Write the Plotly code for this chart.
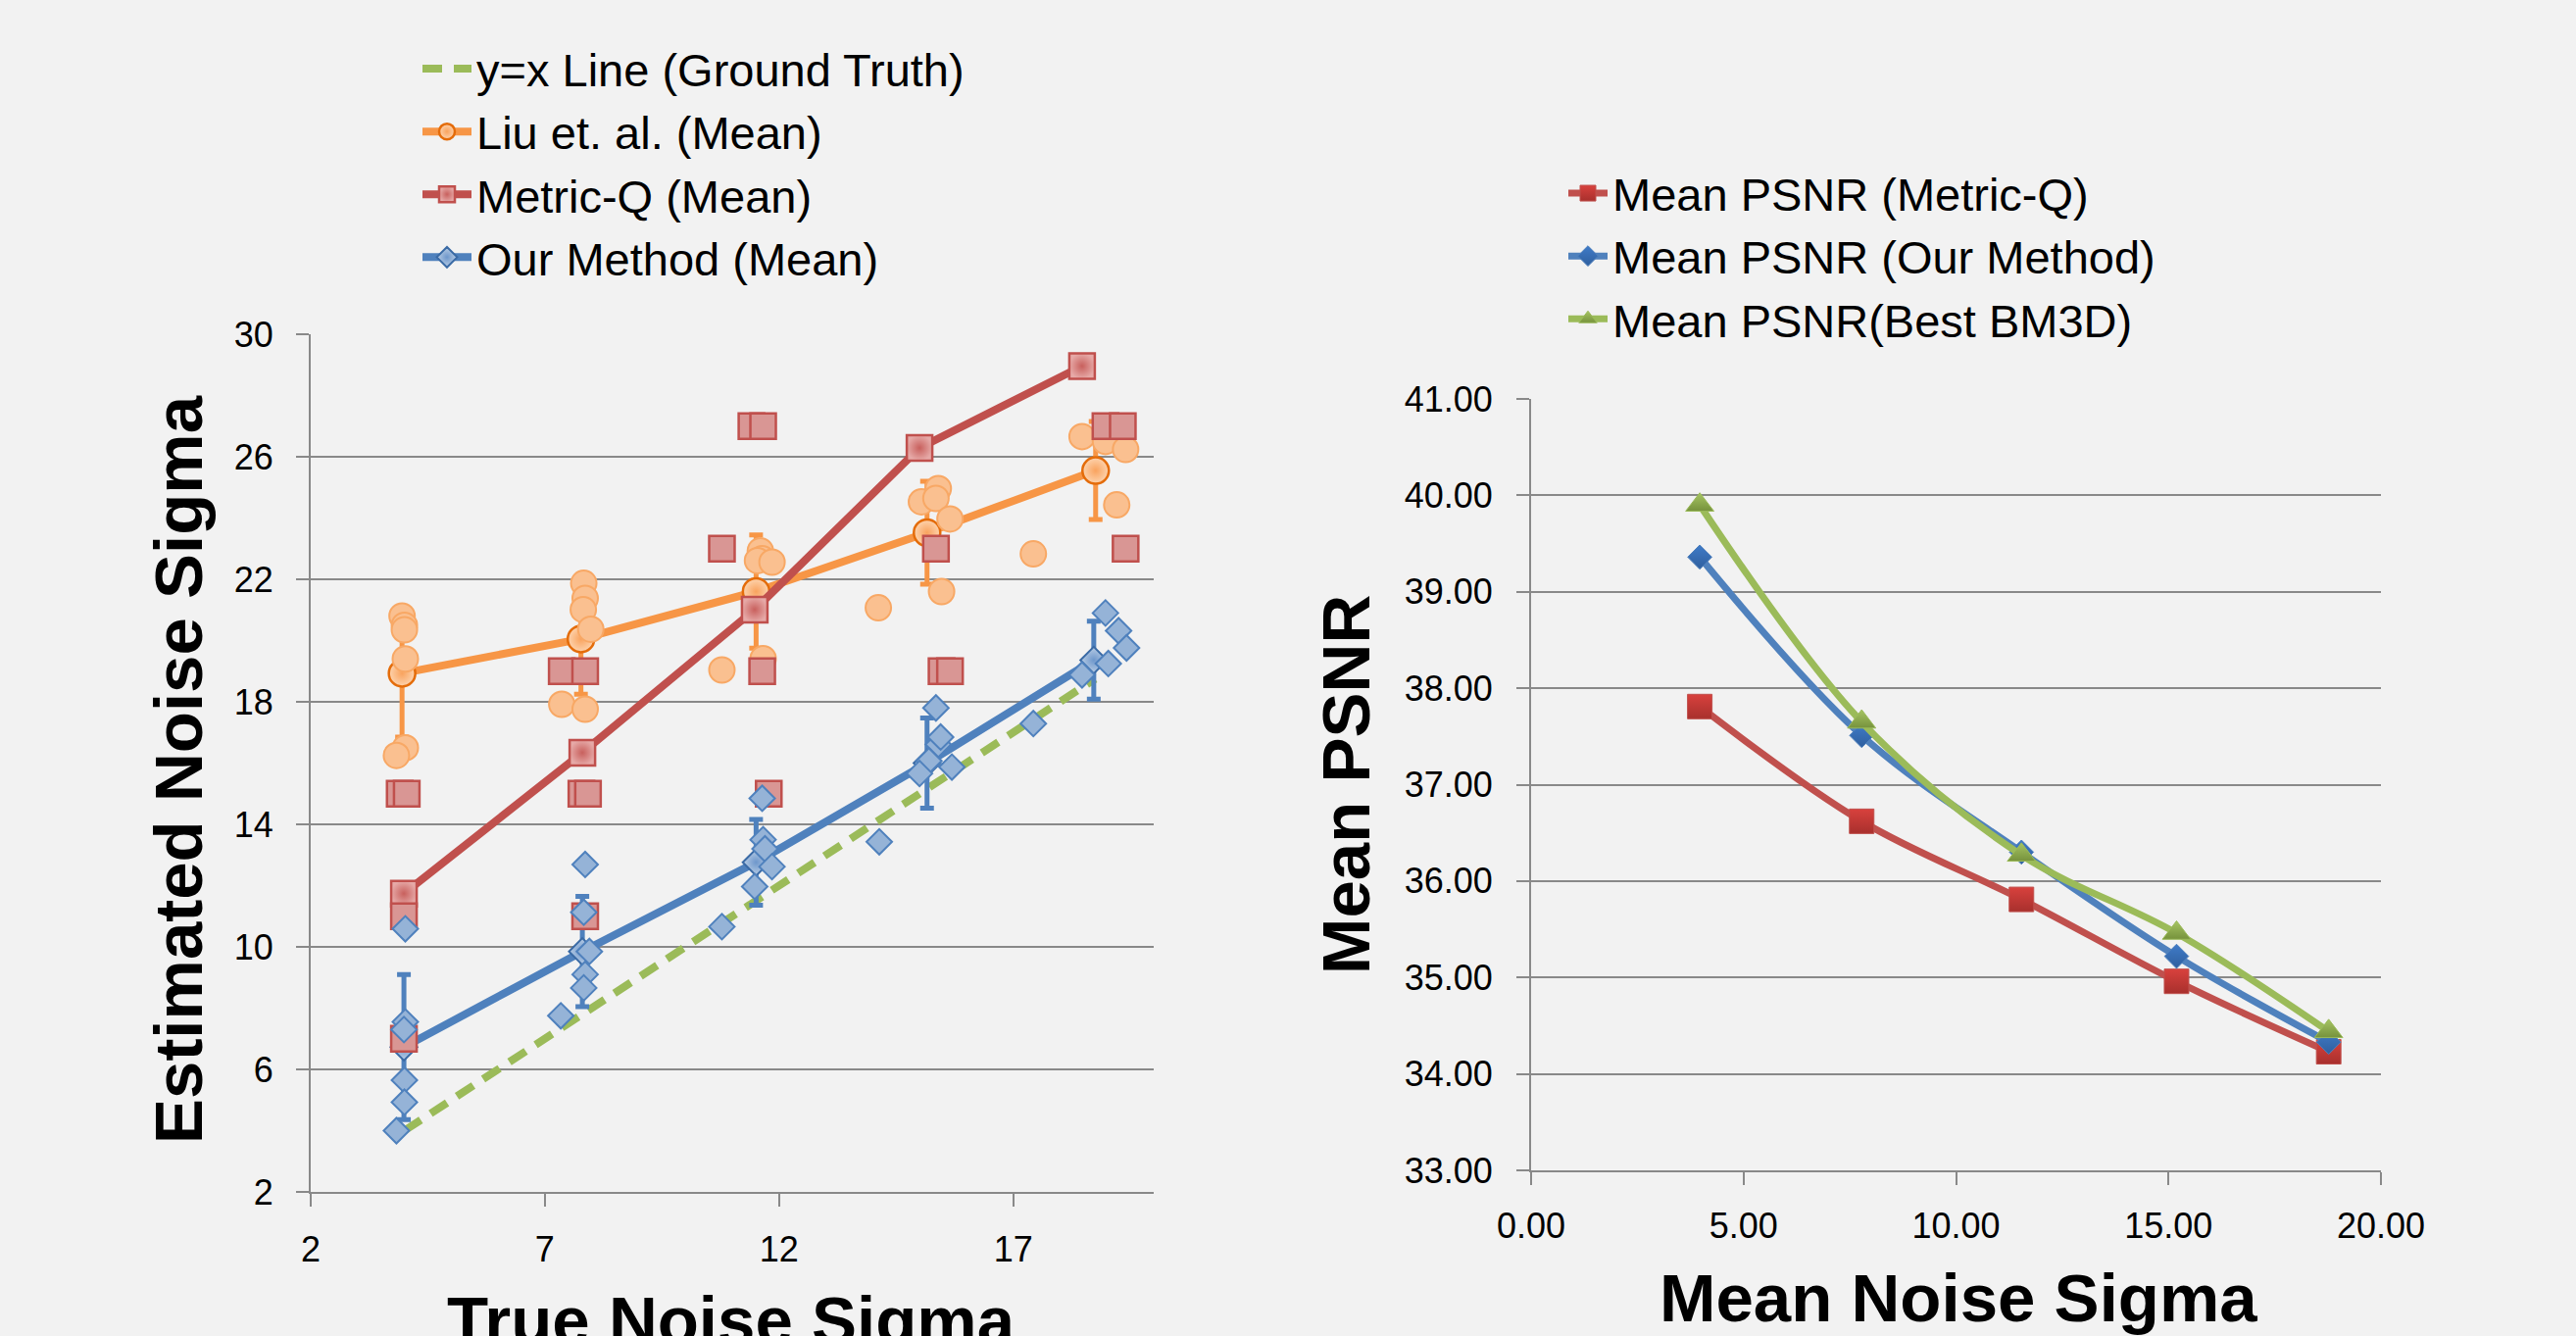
import plotly.graph_objects as go

W, H = 2628, 1363

# ---------------- Left chart data ----------------
gt_x = [4.0, 7.75, 11.5, 15.15, 18.75]
gt_y = [4.0, 7.75, 11.5, 15.15, 18.75]

liu_mean_x = [3.95, 7.77, 11.51, 15.16, 18.76]
liu_mean_y = [18.93, 20.05, 21.6, 23.52, 25.55]
liu_err = [2.08, 1.8, 1.85, 1.68, 1.6]

mq_mean_x = [3.99, 7.8, 11.48, 15.0, 18.47]
mq_mean_y = [11.74, 16.34, 21.01, 26.29, 28.96]

our_mean_x = [3.99, 7.8, 11.51, 15.16, 18.72]
our_mean_y = [6.73, 9.85, 12.76, 16.0, 19.36]
our_err = [2.37, 1.8, 1.4, 1.47, 1.27]

liu_pts_x = [3.95, 4.0, 4.0, 4.02, 4.02, 3.83,
             7.83, 7.86, 7.82, 7.98, 7.36, 7.86,
             11.6, 11.64, 11.54, 11.85, 10.78, 11.66,
             15.04, 15.4, 15.35, 15.65, 15.47, 17.43, 14.12,
             18.47, 18.97, 19.4, 19.21]
liu_pts_y = [20.8, 20.5, 20.35, 19.4, 16.5, 16.25,
             21.87, 21.38, 21.01, 20.37, 17.92, 17.76,
             22.93, 22.67, 22.61, 22.56, 19.04, 19.41,
             24.53, 24.96, 24.64, 23.97, 21.6, 22.83, 21.07,
             26.66, 26.5, 26.24, 24.43]

mq_pts_x = [3.9, 4.05, 3.99, 3.99,
            7.36, 7.86, 7.78, 7.92, 7.86,
            11.41, 11.66, 10.78, 11.64, 11.78,
            15.35, 15.47, 15.65,
            18.97, 19.34, 19.4]
mq_pts_y = [15.0, 15.0, 11.0, 7.0,
            19.0, 19.0, 15.0, 15.0, 11.0,
            27.0, 27.0, 23.0, 19.0, 15.0,
            23.0, 19.0, 19.0,
            27.0, 27.0, 23.0]

our_pts_x = [4.02, 4.02, 3.99, 4.0, 4.0, 3.83,
             7.86, 7.83, 7.95, 7.86, 7.83, 7.34,
             11.64, 11.66, 11.7, 11.85, 11.48, 10.78,
             15.35, 15.4, 15.45, 15.2, 15.0, 15.69, 14.14, 17.43,
             18.97, 19.25, 19.42, 19.03, 18.47]
our_pts_y = [10.59, 7.55, 7.3, 5.65, 4.93, 4.0,
             12.69, 11.13, 9.85, 9.1, 8.66, 7.75,
             14.85, 13.5, 13.2, 12.62, 11.97, 10.66,
             17.8, 16.61, 16.85, 16.07, 15.66, 15.87, 13.43, 17.29,
             20.9, 20.32, 19.76, 19.25, 18.88]

left_xticks = [2, 7, 12, 17]

# ---------------- Right chart data ----------------
psnr_x = [3.97, 7.78, 11.54, 15.19, 18.77]
psnr_mq = [37.81, 36.62, 35.81, 34.96, 34.23]
psnr_our = [39.36, 37.51, 36.30, 35.22, 34.33]
psnr_bm3d = [39.90, 37.65, 36.27, 35.46, 34.44]

# ---------------- Styles ----------------
BG = "#F2F2F2"
GRID = "#898989"
FONT = "Liberation Sans"
ORANGE = "#F79646"
RED = "#C0504D"
BLUE = "#4F81BD"
GREEN = "#9BBB59"


def px(xp):
    return xp / W


def py(yp):
    return 1 - yp / H


fig = go.Figure()

# y = x ground truth
fig.add_trace(go.Scatter(
    x=gt_x, y=gt_y, mode="lines", name="y=x Line (Ground Truth)",
    line=dict(color=GREEN, width=8, dash="20px,12px"),
    xaxis="x", yaxis="y", legend="legend", legendgroup="g1"))

# Means with error bars
fig.add_trace(go.Scatter(
    x=liu_mean_x, y=liu_mean_y, mode="lines+markers", name="Liu et. al. (Mean)",
    line=dict(color=ORANGE, width=8),
    marker=dict(symbol="circle", size=27, color="#FDD3AE",
                gradient=dict(type="radial", color="#F9A35E"),
                line=dict(color="#E46C0A", width=2.5)),
    error_y=dict(type="data", array=liu_err, visible=True, color=ORANGE,
                 thickness=5, width=7),
    xaxis="x", yaxis="y", legend="legend", legendgroup="g2"))

fig.add_trace(go.Scatter(
    x=mq_mean_x, y=mq_mean_y, mode="lines+markers", name="Metric-Q (Mean)",
    line=dict(color=RED, width=8),
    marker=dict(symbol="square", size=26, color="#E6A9A7",
                gradient=dict(type="radial", color="#C8605D"),
                line=dict(color=RED, width=2.5)),
    xaxis="x", yaxis="y", legend="legend", legendgroup="g3"))

fig.add_trace(go.Scatter(
    x=our_mean_x, y=our_mean_y, mode="lines+markers", name="Our Method (Mean)",
    line=dict(color=BLUE, width=8),
    marker=dict(symbol="diamond", size=21, color="#B9CDE5",
                gradient=dict(type="radial", color="#6E97CB"),
                line=dict(color="#3A6AA5", width=2)),
    error_y=dict(type="data", array=our_err, visible=True, color=BLUE,
                 thickness=5, width=7),
    xaxis="x", yaxis="y", legend="legend", legendgroup="g4"))

# Individual samples
fig.add_trace(go.Scatter(
    x=liu_pts_x, y=liu_pts_y, mode="markers", showlegend=False,
    marker=dict(symbol="circle", size=26, color="#FAC090",
                line=dict(color="#F8A865", width=2)),
    xaxis="x", yaxis="y"))

fig.add_trace(go.Scatter(
    x=mq_pts_x, y=mq_pts_y, mode="markers", showlegend=False,
    marker=dict(symbol="square", size=26, color="#D99694",
                line=dict(color=RED, width=2.5)),
    xaxis="x", yaxis="y"))

fig.add_trace(go.Scatter(
    x=our_pts_x, y=our_pts_y, mode="markers", showlegend=False,
    marker=dict(symbol="diamond", size=20, color="#95B3D7",
                line=dict(color=BLUE, width=2)),
    xaxis="x", yaxis="y"))

# Right chart
fig.add_trace(go.Scatter(
    x=psnr_x, y=psnr_mq, mode="lines+markers", name="Mean PSNR (Metric-Q)",
    line=dict(color=RED, width=7, shape="spline"),
    marker=dict(symbol="square", size=25, color="#D8413D",
                gradient=dict(type="vertical", color="#A8302D"),
                line=dict(color="#C0504D", width=1)),
    xaxis="x2", yaxis="y2", legend="legend2", legendgroup="r1"))

fig.add_trace(go.Scatter(
    x=psnr_x, y=psnr_our, mode="lines+markers", name="Mean PSNR (Our Method)",
    line=dict(color=BLUE, width=7, shape="spline"),
    marker=dict(symbol="diamond", size=19, color="#3F7BC8",
                gradient=dict(type="vertical", color="#2F5F9E"),
                line=dict(color="#4F81BD", width=1)),
    xaxis="x2", yaxis="y2", legend="legend2", legendgroup="r2"))

fig.add_trace(go.Scatter(
    x=psnr_x, y=psnr_bm3d, mode="lines+markers", name="Mean PSNR(Best BM3D)",
    line=dict(color=GREEN, width=7, shape="spline"),
    marker=dict(symbol="triangle-up", size=25, color="#A6C463",
                gradient=dict(type="vertical", color="#76923C"),
                line=dict(color="#9BBB59", width=1)),
    xaxis="x2", yaxis="y2", legend="legend2", legendgroup="r3"))

axis_common = dict(
    showline=True, linecolor=GRID, linewidth=2,
    ticks="outside", ticklen=13, tickwidth=2, tickcolor=GRID,
    zeroline=False, automargin=False,
    tickfont=dict(family=FONT, size=36, color="#000000"),
)

fig.update_layout(
    width=W, height=H, autosize=False,
    margin=dict(l=0, r=0, t=0, b=0, pad=0, autoexpand=False),
    paper_bgcolor=BG, plot_bgcolor=BG,
    font=dict(family=FONT, color="#000000"),
    xaxis=dict(domain=[px(317), px(1177)], range=[2, 20], tickvals=left_xticks,
               showgrid=False, anchor="y", ticklabelstandoff=13, **axis_common),
    yaxis=dict(domain=[py(1216), py(341)], range=[2, 30], tick0=2, dtick=4,
               showgrid=True, gridcolor=GRID, gridwidth=2, anchor="x",
               ticklabelstandoff=16, **axis_common),
    xaxis2=dict(domain=[px(1562), px(2429)], range=[0, 20], dtick=5, tick0=0,
                tickformat=".2f", showgrid=False, anchor="y2",
                ticklabelstandoff=11, **axis_common),
    yaxis2=dict(domain=[py(1194), py(407)], range=[33, 41], dtick=1, tick0=33,
                tickformat=".2f", showgrid=True, gridcolor=GRID, gridwidth=2,
                anchor="x2", ticklabelstandoff=17, **axis_common),
    legend=dict(x=px(426), y=py(33), xanchor="left", yanchor="top",
                font=dict(family=FONT, size=47, color="#000000"),
                bgcolor="rgba(0,0,0,0)", itemwidth=50, tracegroupgap=2,
                traceorder="normal"),
    legend2=dict(x=px(1595), y=py(160), xanchor="left", yanchor="top",
                 font=dict(family=FONT, size=47, color="#000000"),
                 bgcolor="rgba(0,0,0,0)", itemwidth=40, tracegroupgap=2,
                 traceorder="normal"),
    showlegend=True,
)

title_font = dict(family=FONT, size=69, color="#000000", weight="bold")
fig.add_annotation(text="Estimated Noise Sigma", x=px(182), y=py(785),
                   xref="paper", yref="paper", showarrow=False, textangle=-90,
                   xanchor="center", yanchor="middle", font=title_font)
fig.add_annotation(text="True Noise Sigma", x=px(746), y=py(1347),
                   xref="paper", yref="paper", showarrow=False,
                   xanchor="center", yanchor="middle", font=title_font)
fig.add_annotation(text="Mean PSNR", x=px(1373), y=py(801),
                   xref="paper", yref="paper", showarrow=False, textangle=-90,
                   xanchor="center", yanchor="middle", font=title_font)
fig.add_annotation(text="Mean Noise Sigma", x=px(1998), y=py(1324),
                   xref="paper", yref="paper", showarrow=False,
                   xanchor="center", yanchor="middle", font=title_font)

fig.write_html("out.html")
